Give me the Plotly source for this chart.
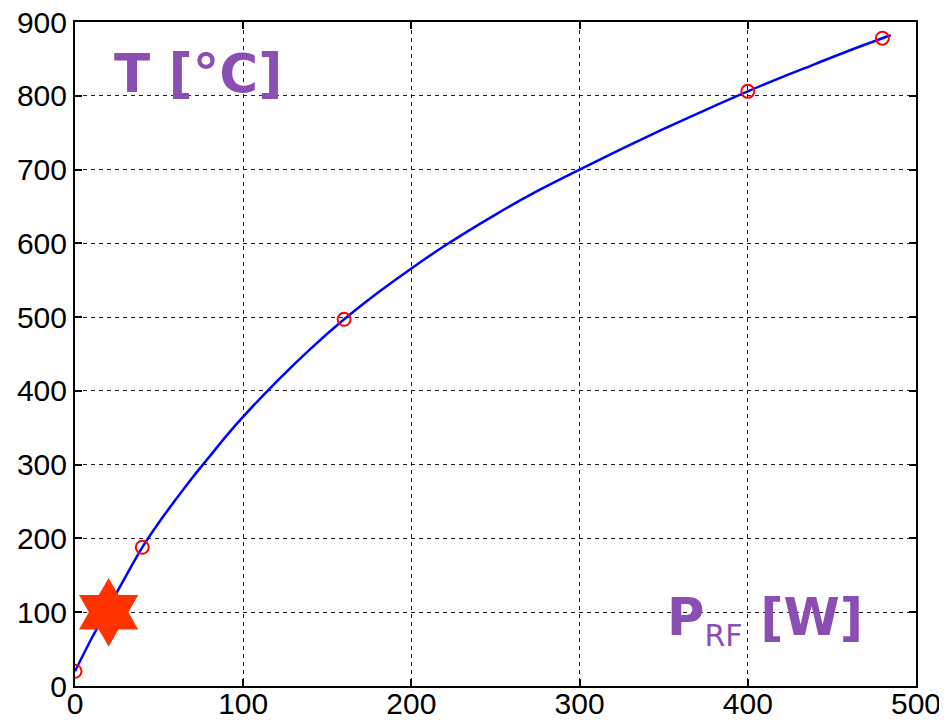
import plotly.graph_objects as go

# measured points (red circles)
p_meas = [0, 40, 160, 400, 480]
t_meas = [20, 188, 497, 806, 878]

# fitted curve
p_fit = [0, 10, 20, 30, 40, 50, 60, 70, 80, 90, 100, 120, 140, 160, 180, 200, 220,
         250, 275, 300, 325, 350, 375, 400, 420, 440, 460, 480, 485]
t_fit = [20, 65, 107, 148, 188, 222, 253, 283, 311, 339, 365, 413, 457, 497, 533, 566, 597,
         639, 671, 700, 728, 755, 781, 806, 825, 843, 861, 878, 882]

# marked operating point (star)
p_star = [20]
t_star = [100]

purple = "#8B4FB3"

fig = go.Figure()
fig.add_trace(go.Scatter(
    x=p_fit, y=t_fit, mode="lines",
    line=dict(color="#0000ff", width=2.5, shape="spline"),
    showlegend=False, hoverinfo="skip",
))
fig.add_trace(go.Scatter(
    x=p_meas, y=t_meas, mode="markers",
    marker=dict(symbol="circle-open", size=13, color="#ff0000", line=dict(width=2)),
    showlegend=False,
))
fig.add_trace(go.Scatter(
    x=p_star, y=t_star, mode="markers",
    marker=dict(symbol="hexagram", size=52, color="#ff3300", line=dict(width=0)),
    showlegend=False,
))

fig.add_annotation(
    x=73, y=830, xref="x", yref="y", text="<b>T [°C]</b>", showarrow=False,
    font=dict(family="DejaVu Sans", size=53, color=purple),
)
fig.add_annotation(
    x=410, y=89, xref="x", yref="y",
    text="<b>P</b><sub><span style='font-size:30px'>RF</span></sub><b> [W]</b>", showarrow=False,
    font=dict(family="DejaVu Sans", size=51, color=purple),
)

axis_common = dict(
    showline=True, linecolor="black", linewidth=2, mirror="ticks",
    showgrid=True, gridcolor="#222222", gridwidth=1.2, griddash="4px,4px",
    ticks="inside", ticklen=7, tickcolor="black", tickwidth=2,
    tickfont=dict(family="Liberation Sans, Arial", size=30, color="black"),
    ticklabeloverflow="allow",
    zeroline=False, automargin=False,
)

# page body has an 8px margin, so the figure is shifted by that amount
fig.update_layout(
    width=939, height=712,
    margin=dict(l=67, r=31, t=14, b=34),
    paper_bgcolor="white", plot_bgcolor="white",
    xaxis=dict(range=[0, 500], dtick=100, ticklabelstandoff=-10, **axis_common),
    yaxis=dict(range=[0, 900], dtick=100, **axis_common),
)

fig.write_html("out.html")
